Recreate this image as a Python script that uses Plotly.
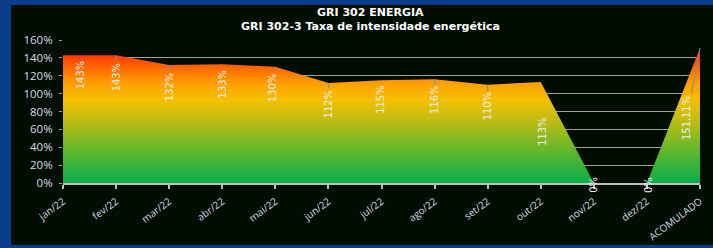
import plotly.graph_objects as go

# ---- data ----
categories = ["jan/22", "fev/22", "mar/22", "abr/22", "mai/22", "jun/22", "jul/22",
              "ago/22", "set/22", "out/22", "nov/22", "dez/22", "ACOMULADO"]
values = [143, 143, 132, 133, 130, 112, 115, 116, 110, 113, 0, 0, 151.11]
y_ticks = [0, 20, 40, 60, 80, 100, 120, 140, 160]
title_line1 = "GRI 302 ENERGIA"
title_line2 = "GRI 302-3 Taxa de intensidade energética"

# ---- label placement (pixel offsets of label centre from point) ----
label_dx = [17, 0, 0, 0, -3, 0, -1, 0, 0, 1, -1, 1, -13]
label_dy = [20, 22, 22, 20, 21, 21, 20, 21, 22, 50, 2, 2, 70]
label_leader = [False, True, True, False, True, True, False, True, True, False, False, False, True]


def fmt(v):
    if float(v).is_integer():
        return f"{v:.0f}%"
    return f"{v:.2f}".replace(".", ",") + "%"


W, H = 713, 248
ML, MR, MT, MB = 63, 13, 40, 65
PW, PH = W - ML - MR, H - MT - MB


def px2paper_x(px):
    return (px - ML) / PW


def px2paper_y(py):
    return (H - MB - py) / PH


BG = "#000d01"
BLUE = "#0a3d8c"
TICKCOL = "#d6dbe6"
LABEL_FONT = "Liberation Sans Narrow, DejaVu Sans Condensed, Arial Narrow, sans-serif"
TITLE_FONT = "DejaVu Sans, Open Sans, sans-serif"

fig = go.Figure()
fig.add_trace(go.Scatter(
    x=categories, y=values, mode="lines",
    line=dict(color="rgba(0,0,0,0)", width=0),
    fill="tozeroy",
    fillgradient=dict(
        type="vertical", start=0, stop=155,
        colorscale=[
            [0.0, "#08ae4c"],
            [0.22, "#5cb72f"],
            [0.42, "#b3bc17"],
            [0.60, "#f4c000"],
            [0.72, "#ff9f00"],
            [0.84, "#ff6400"],
            [0.92, "#ff3a00"],
            [1.0, "#dd0a00"],
        ],
    ),
    hoverinfo="skip", showlegend=False,
))

annotations = []
for c, v, dx, dy, lead in zip(categories, values, label_dx, label_dy, label_leader):
    annotations.append(dict(
        x=c, y=v, xref="x", yref="y", text=fmt(v), textangle=-90,
        showarrow=True, arrowhead=0, arrowwidth=1,
        arrowcolor="#8c8c8c" if lead else "rgba(0,0,0,0)",
        ax=dx, ay=dy, standoff=0,
        font=dict(family=LABEL_FONT, size=11, color="#eeeeee"),
    ))

annotations.append(dict(
    x=px2paper_x(370), y=px2paper_y(12.5), xref="paper", yref="paper",
    text="<b>" + title_line1 + "</b>", showarrow=False,
    xanchor="center", yanchor="middle",
    font=dict(family=TITLE_FONT, size=11, color="#ffffff"),
))
annotations.append(dict(
    x=px2paper_x(370), y=px2paper_y(26.5), xref="paper", yref="paper",
    text="<b>" + title_line2 + "</b>", showarrow=False,
    xanchor="center", yanchor="middle",
    font=dict(family=TITLE_FONT, size=11, color="#ffffff"),
))

fig.update_layout(
    width=W, height=H,
    margin=dict(l=ML, r=MR, t=MT, b=MB, pad=0, autoexpand=False),
    paper_bgcolor=BLUE, plot_bgcolor=BG,
    annotations=annotations,
    shapes=[dict(
        type="rect", xref="paper", yref="paper", layer="below",
        x0=px2paper_x(11), x1=px2paper_x(W + 5),
        y0=px2paper_y(245), y1=px2paper_y(5),
        fillcolor=BG, line=dict(width=0),
    )],
    xaxis=dict(
        type="category", range=[0, len(categories) - 1], automargin=False,
        showgrid=False, zeroline=False, layer="above traces",
        showline=True, linecolor="#bfbfbf", linewidth=1.5,
        ticks="outside", ticklen=4, tickcolor="#bfbfbf", tickwidth=1.5,
        tickangle=-37, ticklabelstandoff=3,
        tickfont=dict(family="Open Sans, sans-serif", size=10, color=TICKCOL),
    ),
    yaxis=dict(
        range=[0, 160], tickvals=y_ticks, ticktext=[f"{t}%" for t in y_ticks],
        automargin=False,
        showgrid=True, gridcolor="#a0a0a0", gridwidth=1,
        zeroline=False, showline=False,
        ticks="outside", ticklen=3, tickcolor="#a0a0a0",
        ticklabelstandoff=4,
        tickfont=dict(family="Open Sans, sans-serif", size=11.5, color=TICKCOL),
    ),
)

fig.write_html(
    "out.html",
    config={"displayModeBar": False},
    post_script="document.body.style.margin='0';document.body.style.background='#0a3d8c';",
)
